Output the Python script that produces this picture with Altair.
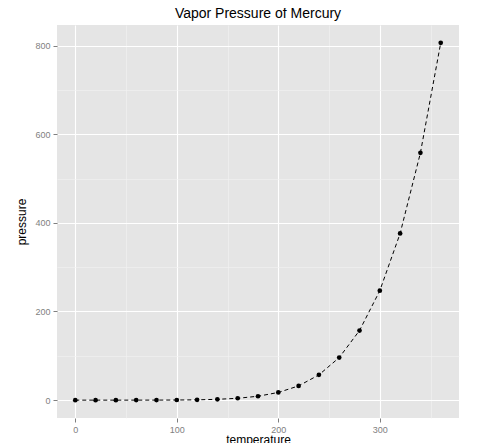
import altair as alt
import pandas as pd

temperature = [0, 20, 40, 60, 80, 100, 120, 140, 160, 180, 200, 220, 240, 260, 280, 300, 320, 340, 360]
pressure = [0.0002, 0.0012, 0.006, 0.03, 0.09, 0.27, 0.75, 1.85, 4.2, 8.8, 17.3, 32.1, 57.0, 96.0, 157.0, 247.0, 376.0, 558.0, 806.0]
x_ticks = [0, 50, 100, 150, 200, 250, 300, 350]
y_ticks = [0, 100, 200, 300, 400, 500, 600, 700, 800]

df = pd.DataFrame({"temperature": temperature, "pressure": pressure})

FONT = "Liberation Sans"

def axis(values, step, title_pad, **kw):
    test = f"datum.value % {step} === 0"
    return alt.Axis(
        values=values,
        labelExpr=f"{test} ? datum.label : ''",
        gridColor={"condition": {"test": test, "value": "#ffffff"}, "value": "#f2f2f2"},
        gridWidth={"condition": {"test": test, "value": 1.1}, "value": 0.6},
        tickColor={"condition": {"test": test, "value": "#7f7f7f"}, "value": "transparent"},
        tickSize=4,
        domain=False,
        labelColor="#7f7f7f",
        labelFont=FONT,
        labelFontSize=9,
        labelPadding=3,
        titleFont=FONT,
        titleFontSize=12,
        titleFontWeight="normal",
        titleColor="#000000",
        titlePadding=title_pad,
        **kw,
    )

x = alt.X("temperature:Q", scale=alt.Scale(domain=[-18, 378], nice=False, zero=False),
          axis=axis(x_ticks, 100, 0, format="d"), title="temperature")
y = alt.Y("pressure:Q", scale=alt.Scale(domain=[-40.3, 846.3], nice=False, zero=False),
          axis=axis(y_ticks, 200, 6, format="d"), title="pressure")

line = alt.Chart(df).mark_line(color="black", strokeDash=[4, 3], strokeWidth=1).encode(x=x, y=y)
pts = alt.Chart(df).mark_circle(color="black", size=22, opacity=1).encode(x=x, y=y)

chart = (line + pts).properties(
    width=402,
    height=393,
    background="white",
    title=alt.TitleParams("Vapor Pressure of Mercury", font=FONT, fontSize=14,
                          fontWeight="normal", color="#000000", anchor="middle", offset=4),
    autosize=alt.AutoSizeParams(type="none"),
    padding={"left": 49, "top": 17, "right": 13, "bottom": 30},
).configure_view(fill="#e5e5e5", strokeWidth=0)

chart.save("out.html", embed_options={"renderer": "svg", "actions": False})
